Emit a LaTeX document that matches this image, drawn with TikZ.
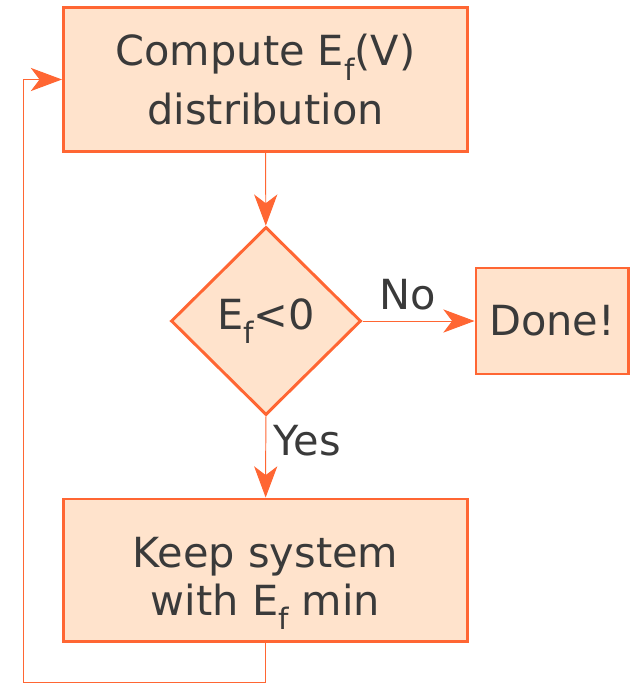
\documentclass[tikz,border=0pt]{standalone}
\usepackage{fontspec}
\setmainfont{DejaVu Sans}
\usetikzlibrary{shapes.geometric,arrows.meta}
\definecolor{myorange}{HTML}{FF6633}
\definecolor{mypeach}{HTML}{FFE3CC}
\definecolor{mytext}{HTML}{3A3A3A}
\newcommand{\Ef}{E\raisebox{-10.5pt}{\fontsize{21}{21}\selectfont f}}

\begin{document}
\begin{tikzpicture}[x=0.025cm, y=-0.025cm,
    every node/.style={text=mytext, font=\fontsize{29.5}{34}\selectfont},
    stepbox/.style={draw=myorange, fill=mypeach, line width=2.1pt, align=center, inner sep=0pt},
    test/.style={diamond, draw=myorange, fill=mypeach, line width=2.1pt, inner sep=0pt, minimum width=4.75cm, minimum height=4.7cm},
    link/.style={draw=myorange, line width=0.7pt, -{Stealth[length=0.78cm, width=0.58cm, inset=0.22cm]}}]
    \useasboundingbox (0,0) rectangle (632,684);
    % boxes
    \node[stepbox, minimum width=10.1cm, minimum height=3.6cm] (compute) at (265.5,79.5) {Compute \Ef(V)\\[8pt]distribution};
    \node[test] (check) at (266,321) {\Ef<0};
    \node[stepbox, minimum width=3.8cm, minimum height=2.65cm] (done) at (552,321) {Done!};
    \node[stepbox, minimum width=10.1cm, minimum height=3.55cm, text depth=0pt] (keep) at (265.5,570) {\rule{0pt}{30pt}Keep system\\with \Ef{} min};
    % links
    \draw[link] (compute) -- (check);
    \draw[link] (check) -- node[above, pos=0.4, yshift=4pt] (no) {No} (done);
    \draw[link] (check) -- node[right, pos=0.3, xshift=2pt] (yes) {Yes} (keep);
    \coordinate (corner) at (23,682);
    \draw[link] (keep.south) |- (corner) |- (compute.west);
\end{tikzpicture}
\end{document}
